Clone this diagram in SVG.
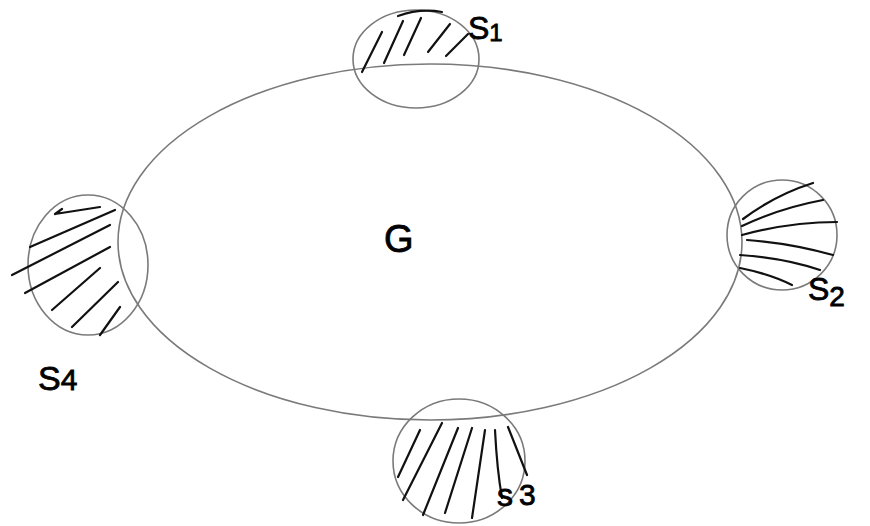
<svg xmlns="http://www.w3.org/2000/svg" width="870" height="526" viewBox="0 0 870 526">
<style>
.outline{fill:none;stroke:#7a7a7a;stroke-width:1.6}
.hatch{fill:none;stroke:#111;stroke-width:2.2;stroke-linecap:round}
.lbl{font-family:"Liberation Sans",Arial,sans-serif;fill:#000;stroke:#000;stroke-width:0.8}
</style>
<rect width="870" height="526" fill="#fff"/>
<g id="G">
<ellipse class="outline" cx="430" cy="242" rx="312" ry="178"/>
<text class="lbl" x="384" y="252" font-size="38">G</text>
</g>
<g id="S1">
<ellipse class="outline" cx="416" cy="59" rx="63" ry="49"/>
<path class="hatch" d="M362 72L382 32M384 63L403 21M404 55L421 18M428 52L450 24M446 56L468 34M398 16Q420 8 442 12"/>
<text class="lbl" x="468" y="39" font-size="32">S<tspan font-size="24" dy="2">1</tspan></text>
</g>
<g id="S2">
<ellipse class="outline" cx="782" cy="235" rx="55" ry="55"/>
<path class="hatch" d="M743 219Q775 195 813 183M742 226Q780 208 823 200M742 235Q790 222 837 222M747 240Q790 243 833 255M740 255Q785 258 820 270M740 268Q770 274 792 285"/>
<text class="lbl" x="808" y="300" font-size="32">S<tspan font-size="28" dy="6">2</tspan></text>
</g>
<g id="S3">
<ellipse class="outline" cx="459" cy="461" rx="66" ry="62"/>
<path class="hatch" d="M420 430L398 477M442 423L403 500M458 428L423 515M472 428L445 513M485 430L472 518M495 430Q497 470 502 498M508 427L527 475"/>
<text class="lbl" x="497" y="506" font-size="32">s<tspan font-size="30" dx="6" dy="-1">3</tspan></text>
</g>
<g id="S4">
<ellipse class="outline" cx="88" cy="265" rx="60" ry="70"/>
<path class="hatch" d="M55 214L100 207M55 214L62 209M30 247L115 210M12 275L110 225M25 293L110 247M52 310L100 268M72 327L118 282M100 335L120 307"/>
<text class="lbl" x="38" y="390" font-size="34">S<tspan font-size="30">4</tspan></text>
</g>
<g id="connectors"/>
</svg>
